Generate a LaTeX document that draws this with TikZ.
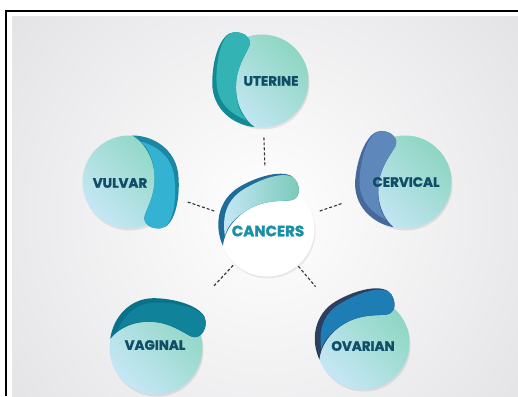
\documentclass[tikz,border=0pt]{standalone}
\usepackage{fontspec}
\setsansfont{Poppins}[BoldFeatures={FakeBold=1.6}]
\usetikzlibrary{shadows}
\definecolor{mint}{HTML}{8ED6C2}
\definecolor{sky}{HTML}{C6E7F6}
\definecolor{ink}{HTML}{0F4E66}
\definecolor{coreink}{HTML}{1A8FA8}
\definecolor{bggray}{HTML}{D6D6DA}
\definecolor{utD}{HTML}{118A92}\definecolor{utL}{HTML}{33B3B4}
\definecolor{vuD}{HTML}{1C87A5}\definecolor{vuL}{HTML}{33B2D2}
\definecolor{ceD}{HTML}{46699C}\definecolor{ceL}{HTML}{5E88BC}
\definecolor{vaD}{HTML}{0A718A}\definecolor{vaL}{HTML}{10829A}
\definecolor{ovD}{HTML}{2C3F5F}\definecolor{ovL}{HTML}{1D7DB4}
\definecolor{caD}{HTML}{1E6C97}
\pgfdeclareradialshading{coreshade}{\pgfpoint{0bp}{0bp}}{color(0bp)=(white); color(28bp)=(white); color(50bp)=(black!17)}
% swoosh: node, angle, size, dark colour, light fill
\newcommand\swoosh[5]{%
  \begin{scope}[shift={(#1)},rotate=#2,x=#3,y=#3]
    \fill[#4] (-.16,-.99) .. controls (-.62,-.95) and (-1.07,-.6) .. (-1.07,-.05)
      .. controls (-1.07,.5) and (-.88,1.04) .. (-.6,1.05)
      .. controls (-.38,1.06) and (-.22,.92) .. (-.27,.76)
      .. controls (-.33,.6) and (-.56,.3) .. (-.56,-.12)
      .. controls (-.56,-.55) and (-.36,-.85) .. (-.16,-.99) -- cycle;
    \path[#5] (-.32,-.85) .. controls (-.7,-.7) and (-.97,-.45) .. (-.98,0)
      .. controls (-.99,.5) and (-.86,1.03) .. (-.6,1.05)
      .. controls (-.38,1.06) and (-.22,.92) .. (-.27,.76)
      .. controls (-.33,.6) and (-.56,.3) .. (-.56,-.12)
      .. controls (-.56,-.5) and (-.46,-.72) .. (-.32,-.85) -- cycle;
  \end{scope}}
\begin{document}
\begin{tikzpicture}[x=1pt,y=-1pt,
  ball/.style={circle,minimum size=93pt,inner sep=0pt,top color=mint,bottom color=sky,shading angle=-45,
    drop shadow={opacity=.18,shadow xshift=1pt,shadow yshift=-2pt}},
  core/.style={circle,minimum size=95pt,inner sep=0pt,shading=coreshade,
    drop shadow={opacity=.15,shadow xshift=1pt,shadow yshift=-2pt}},
  lbl/.style={font=\sffamily\bfseries\fontsize{13.5}{15}\selectfont,text=ink},
  link/.style={line width=1.1pt,dash pattern=on 3pt off 2pt,draw=black!80}]
\useasboundingbox (0,0) rectangle (518,396);
% backdrop
\begin{scope}
  \clip (12,17) rectangle (518,396);
  \shade[inner color=white,outer color=bggray] (265,215) circle (480);
\end{scope}
\draw[line width=1.2pt] (6,396) -- (6,11) -- (518,11);
% centre
\node[core] (ca) at (267,229) {};
\swoosh{ca}{-60}{47pt}{caD}{left color=sky,right color=mint!85!teal}
\node[font=\sffamily\bfseries\fontsize{15}{17}\selectfont,text=coreink] at ([shift={(1,2)}]ca) {CANCERS};
% outer balls
\foreach \n/\x/\y/\t/\dx/\dy/\r/\c in {ut/262/81/UTERINE/9/0/0/ut,vu/129/182/VULVAR/-9/1/185/vu,
    ce/405/182/CERVICAL/1/0/-5/ce,va/156/348/VAGINAL/-1/-3/-92/va,ov/363/343/OVARIAN/0/3/-60/ov}{
  \node[ball] (\n) at (\x,\y) {};
  \swoosh{\n}{\r}{46.5pt}{\c D}{fill=\c L}
  \node[lbl] at ([shift={(\dx,\dy)}]\n) {\t};
}
\foreach \n/\a/\b in {ut/16pt/8pt,vu/8pt/15pt,ce/8pt/19pt,va/2pt/37pt,ov/1pt/27pt}
  \draw[link,shorten <=\a,shorten >=\b] (ca) -- (\n);
\end{tikzpicture}
\end{document}
